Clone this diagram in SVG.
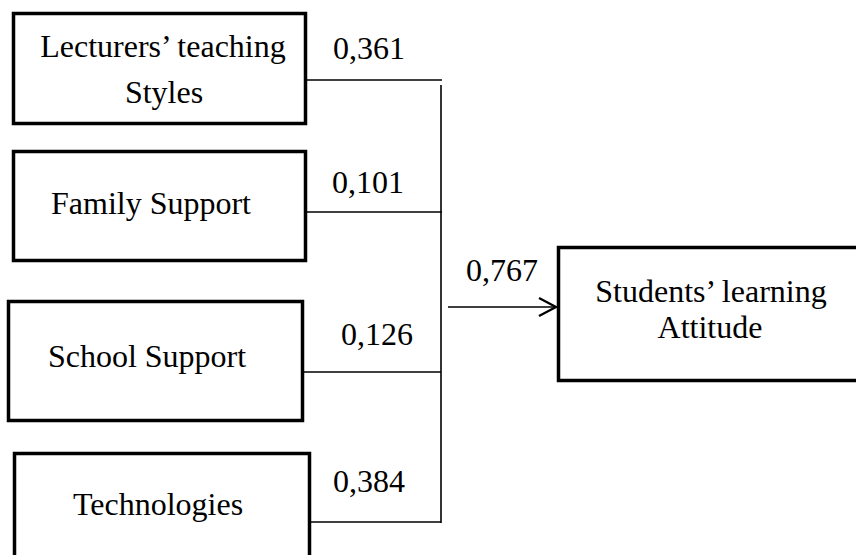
<svg xmlns="http://www.w3.org/2000/svg" width="856" height="555" viewBox="0 0 856 555">
<defs>
<style>
.box{fill:#fff;stroke:#000;stroke-width:3.5}
.t{font-family:"Liberation Serif","Times New Roman",serif;font-size:32px;fill:#000;text-anchor:middle}
.ln{stroke:#000;stroke-width:1.6;fill:none}
</style>
<marker id="arr" viewBox="0 0 24 24" refX="22" refY="12" markerWidth="24" markerHeight="24" markerUnits="userSpaceOnUse" orient="auto">
<path d="M5,3 L22,12 L5,21" fill="none" stroke="#000" stroke-width="2.2"/>
</marker>
</defs>
<rect width="856" height="555" fill="#fff"/>
<g id="n1">
<rect class="box" x="13.5" y="13.5" width="292" height="110"/>
<text class="t" x="163" y="57">Lecturers’ teaching</text>
<text class="t" x="164" y="103">Styles</text>
</g>
<g id="n2">
<rect class="box" x="13.5" y="151.5" width="292" height="109"/>
<text class="t" x="151" y="214">Family Support</text>
</g>
<g id="n3">
<rect class="box" x="8.5" y="301.5" width="294" height="119"/>
<text class="t" x="147" y="367">School Support</text>
</g>
<g id="n4">
<rect class="box" x="14.5" y="453.5" width="295" height="110"/>
<text class="t" x="158" y="515">Technologies</text>
</g>
<g id="n5">
<rect class="box" x="558.5" y="247.5" width="310" height="133"/>
<text class="t" x="711" y="302">Students’ learning</text>
<text class="t" x="710" y="338">Attitude</text>
</g>
<g id="connectors">
<line class="ln" x1="307" y1="80" x2="442" y2="80"/>
<line class="ln" x1="307" y1="212" x2="442" y2="212"/>
<line class="ln" x1="304" y1="372" x2="441" y2="372"/>
<line class="ln" x1="311" y1="522" x2="441" y2="522"/>
<line class="ln" x1="441" y1="85" x2="441" y2="523"/>
<line class="ln" x1="448" y1="307" x2="556" y2="307" marker-end="url(#arr)"/>
<text class="t" x="369" y="59">0,361</text>
<text class="t" x="368" y="193">0,101</text>
<text class="t" x="377" y="345">0,126</text>
<text class="t" x="369" y="492">0,384</text>
<text class="t" x="502" y="281">0,767</text>
</g>
</svg>
